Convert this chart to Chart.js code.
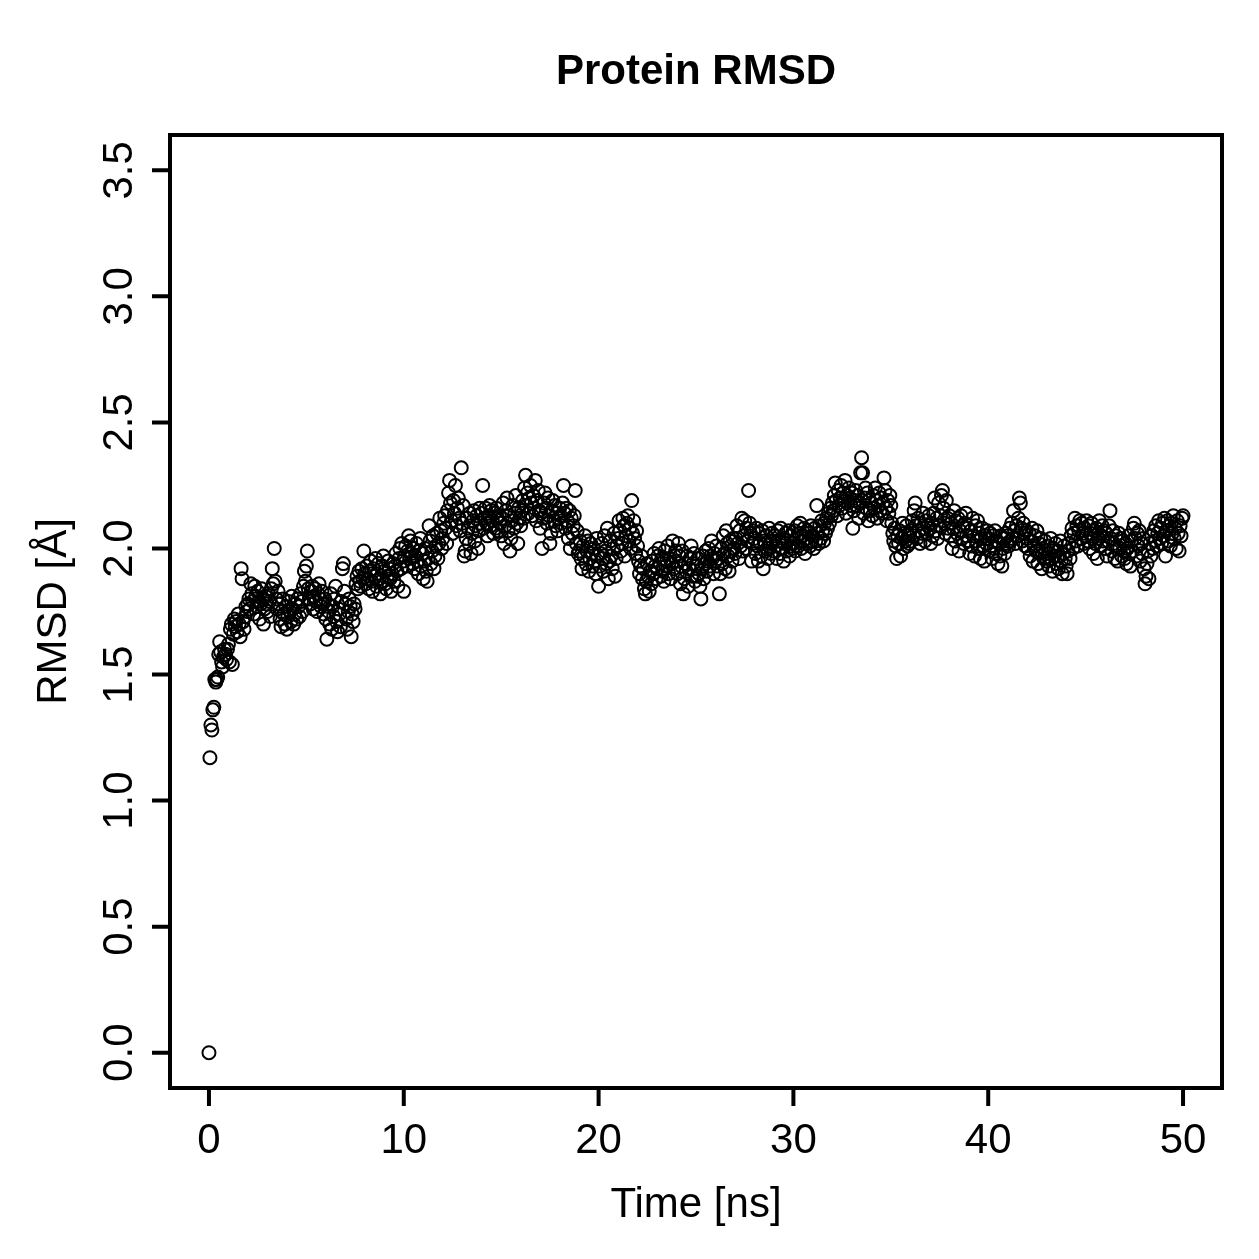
<!DOCTYPE html>
<html>
<head>
<meta charset="utf-8">
<title>Protein RMSD</title>
<script src="https://cdn.jsdelivr.net/npm/chart.js@4.4.1/dist/chart.umd.min.js"></script>
<style>
  html, body { margin: 0; padding: 0; background: #fff; }
  #wrap { width: 1259px; height: 1259px; }
</style>
</head>
<body>
<div id="wrap"><canvas id="rmsdChart" width="1259" height="1259"></canvas></div>
<script>
/* =========================================================
   DATA
========================================================= */

const chartTitle = "Protein RMSD";
const xTitle = "Time [ns]";
const yTitle = "RMSD [Å]";

// frames every 0.05 ns, 0 .. 50 ns
const timeStep = 0.05;

const rmsd = [
  // 0 ns
  0.00, 1.17, 1.30, 1.28, 1.36, 1.37, 1.48, 1.47, 1.48, 1.49, 1.58, 1.63, 1.59, 1.55, 1.53, 1.57, 1.60, 1.58, 1.56, 1.60,
  1.62, 1.55, 1.68, 1.70, 1.54, 1.66, 1.72, 1.69, 1.71, 1.67, 1.74, 1.70, 1.65, 1.92, 1.88, 1.71, 1.68, 1.73, 1.77, 1.75,
  1.78, 1.80, 1.76, 1.86, 1.82, 1.79, 1.74, 1.85, 1.81, 1.77, 1.83, 1.79, 1.72, 1.78, 1.84, 1.80, 1.70, 1.76, 1.81, 1.78,
  1.75, 1.82, 1.79, 1.73, 1.84, 1.92, 1.86, 2.00, 1.87, 1.80, 1.76, 1.83, 1.78, 1.72, 1.69, 1.75, 1.80, 1.74, 1.70, 1.77,
  1.68, 1.73, 1.79, 1.75, 1.71, 1.81, 1.76, 1.70, 1.74, 1.78, 1.72, 1.80, 1.77, 1.73, 1.82, 1.79, 1.75, 1.85, 1.91, 1.87,
  // 5 ns
  1.93, 1.99, 1.84, 1.80, 1.78, 1.83, 1.85, 1.76, 1.81, 1.84, 1.79, 1.75, 1.82, 1.86, 1.80, 1.77, 1.83, 1.78, 1.74, 1.80,
  1.72, 1.64, 1.78, 1.75, 1.70, 1.82, 1.68, 1.77, 1.73, 1.80, 1.85, 1.71, 1.67, 1.76, 1.74, 1.69, 1.79, 1.92, 1.94, 1.83,
  1.78, 1.72, 1.68, 1.75, 1.80, 1.77, 1.65, 1.74, 1.71, 1.78, 1.76, 1.86, 1.89, 1.84, 1.91, 1.87, 1.85, 1.92, 1.88, 1.99,
  1.90, 1.86, 1.93, 1.88, 1.84, 1.91, 1.95, 1.87, 1.83, 1.92, 1.89, 1.96, 1.85, 1.90, 1.94, 1.88, 1.82, 1.87, 1.93, 1.97,
  1.91, 1.86, 1.84, 1.89, 1.95, 1.92, 1.88, 1.83, 1.90, 1.94, 1.87, 1.93, 1.98, 1.91, 1.85, 1.96, 2.00, 1.92, 2.02, 1.95,
  // 10 ns
  1.83, 1.97, 2.01, 1.93, 1.99, 2.05, 1.96, 2.03, 1.98, 1.94, 2.00, 1.92, 1.97, 2.02, 1.95, 1.90, 1.99, 2.04, 1.93, 1.98,
  1.88, 1.95, 2.00, 1.91, 1.87, 1.96, 2.09, 2.03, 1.94, 1.99, 2.05, 1.92, 1.97, 2.01, 2.06, 1.96, 2.02, 2.12, 2.07, 2.00,
  2.04, 2.10, 2.13, 2.08, 2.02, 2.15, 2.22, 2.27, 2.18, 2.11, 2.06, 2.19, 2.14, 2.25, 2.09, 2.16, 2.20, 2.12, 2.07, 2.32,
  2.10, 2.17, 1.97, 1.99, 2.04, 2.12, 2.08, 2.02, 2.14, 1.98, 2.06, 2.11, 2.15, 2.03, 2.09, 2.13, 2.00, 2.07, 2.16, 2.10,
  2.14, 2.25, 2.08, 2.12, 2.16, 2.10, 2.05, 2.13, 2.17, 2.09, 2.15, 2.11, 2.06, 2.14, 2.08, 2.16, 2.12, 2.07, 2.13, 2.10,
  // 15 ns
  2.05, 2.12, 2.18, 2.02, 2.09, 2.15, 2.20, 2.07, 2.13, 1.99, 2.04, 2.11, 2.17, 2.08, 2.14, 2.21, 2.10, 2.02, 2.16, 2.12,
  2.09, 2.15, 2.19, 2.12, 2.24, 2.29, 2.17, 2.22, 2.14, 2.20, 2.25, 2.18, 2.13, 2.21, 2.16, 2.27, 2.11, 2.19, 2.23, 2.15,
  2.08, 2.14, 2.00, 2.12, 2.18, 2.22, 2.16, 2.10, 2.20, 2.13, 2.02, 2.06, 2.15, 2.19, 2.11, 2.17, 2.09, 2.14, 2.07, 2.12,
  2.16, 2.13, 2.10, 2.18, 2.25, 2.14, 2.08, 2.16, 2.11, 2.04, 2.15, 2.00, 2.12, 2.06, 2.09, 2.13, 2.23, 2.02, 2.07, 1.98,
  1.99, 2.03, 1.96, 1.92, 2.01, 1.97, 2.05, 1.94, 1.99, 2.03, 1.91, 1.96, 2.02, 1.98, 1.93, 2.00, 1.95, 1.90, 2.04, 1.97,
  // 20 ns
  1.85, 1.93, 1.98, 2.02, 1.96, 1.91, 2.05, 1.99, 1.94, 2.08, 1.88, 1.95, 2.03, 1.97, 1.92, 2.00, 2.06, 1.89, 1.96, 2.01,
  2.04, 2.11, 2.07, 1.99, 2.02, 2.12, 2.09, 1.97, 2.05, 2.10, 2.13, 2.03, 2.08, 2.00, 2.19, 2.06, 2.11, 2.04, 1.98, 2.07,
  2.01, 1.95, 1.90, 1.93, 1.97, 1.88, 1.92, 1.84, 1.82, 1.87, 1.94, 1.89, 1.83, 1.91, 1.86, 1.95, 1.90, 1.98, 1.93, 1.88,
  1.92, 1.97, 2.00, 1.94, 1.89, 1.96, 1.91, 1.87, 1.99, 1.93, 1.95, 2.01, 1.90, 1.96, 1.88, 1.94, 2.03, 1.92, 1.97, 1.99,
  1.95, 1.90, 2.02, 1.97, 1.86, 1.93, 1.99, 1.82, 1.88, 1.94, 1.91, 1.97, 1.85, 1.92, 1.96, 2.01, 1.89, 1.94, 1.98, 1.87,
  // 25 ns
  1.93, 1.89, 1.96, 1.90, 1.85, 1.80, 1.92, 1.97, 1.88, 1.94, 1.99, 1.91, 1.95, 2.00, 1.93, 1.97, 2.03, 1.96, 1.90, 1.98,
  1.95, 2.01, 1.93, 1.96, 1.82, 1.90, 2.00, 1.94, 2.05, 1.98, 1.92, 2.07, 2.02, 1.97, 1.91, 2.03, 1.99, 1.95, 2.04, 2.00,
  1.98, 2.04, 2.09, 2.02, 1.96, 2.07, 2.01, 2.12, 1.99, 2.05, 2.11, 2.00, 2.08, 2.03, 2.23, 2.10, 2.06, 1.95, 2.02, 2.07,
  2.04, 1.98, 2.08, 2.01, 1.95, 2.06, 2.02, 1.97, 2.07, 1.92, 2.03, 1.99, 2.05, 2.00, 1.96, 2.08, 2.02, 1.98, 2.06, 2.03,
  1.99, 2.05, 2.01, 1.96, 2.07, 2.03, 1.98, 2.08, 2.00, 2.04, 1.95, 2.02, 2.06, 1.99, 2.03, 2.07, 1.97, 2.01, 2.05, 2.00,
  // 30 ns
  2.02, 2.07, 1.99, 2.04, 2.09, 2.01, 2.06, 2.10, 2.00, 2.05, 2.03, 2.08, 1.98, 2.04, 2.07, 2.02, 2.06, 2.01, 2.09, 2.03,
  2.05, 2.00, 2.08, 2.03, 2.17, 2.06, 2.02, 2.09, 2.04, 2.11, 2.07, 2.03, 2.10, 2.06, 2.12, 2.08, 2.14, 2.10, 2.16, 2.13,
  2.18, 2.15, 2.21, 2.26, 2.19, 2.13, 2.23, 2.17, 2.20, 2.25, 2.16, 2.22, 2.19, 2.27, 2.14, 2.21, 2.18, 2.24, 2.20, 2.17,
  2.22, 2.08, 2.15, 2.19, 2.23, 2.17, 2.21, 2.12, 2.18, 2.30, 2.36, 2.30, 2.14, 2.20, 2.24, 2.16, 2.22, 2.11, 2.19, 2.15,
  2.18, 2.13, 2.21, 2.16, 2.24, 2.19, 2.12, 2.17, 2.22, 2.15, 2.20, 2.14, 2.18, 2.28, 2.23, 2.16, 2.11, 2.19, 2.14, 2.21,
  // 35 ns
  2.17, 2.10, 2.06, 2.03, 2.08, 2.01, 1.96, 2.05, 2.02, 2.07, 1.97, 2.04, 2.10, 2.00, 2.06, 2.03, 2.09, 2.01, 2.05, 2.02,
  2.07, 2.03, 2.11, 2.05, 2.15, 2.18, 2.09, 2.04, 2.12, 2.07, 2.02, 2.10, 2.06, 2.14, 2.08, 2.03, 2.11, 2.06, 2.09, 2.13,
  2.08, 2.02, 2.10, 2.05, 2.14, 2.20, 2.07, 2.12, 2.04, 2.18, 2.09, 2.13, 2.21, 2.23, 2.16, 2.10, 2.06, 2.19, 2.12, 2.08,
  2.13, 2.05, 2.10, 2.00, 2.08, 2.15, 2.03, 2.11, 2.06, 2.12, 1.99, 2.07, 2.13, 2.04, 2.09, 2.02, 2.10, 2.14, 2.05, 2.08,
  2.03, 1.98, 2.07, 2.01, 2.12, 2.05, 1.97, 2.09, 2.03, 2.11, 2.00, 2.06, 1.96, 2.04, 2.08, 2.01, 1.95, 2.05, 2.02, 2.07,
  // 40 ns
  2.04, 1.99, 2.06, 2.01, 1.96, 2.05, 2.00, 2.07, 1.98, 2.03, 1.94, 2.02, 1.97, 2.05, 1.93, 2.00, 2.04, 1.98, 2.06, 2.02,
  2.05, 2.01, 2.08, 2.03, 2.10, 2.04, 2.15, 2.07, 2.02, 2.09, 2.05, 2.12, 2.20, 2.18, 2.08, 2.03, 2.10, 2.06, 2.01, 2.07,
  2.04, 2.00, 2.06, 1.97, 2.03, 2.08, 1.95, 2.01, 2.05, 1.99, 2.07, 1.94, 2.02, 1.98, 2.04, 1.92, 2.00, 1.96, 2.03, 1.99,
  1.95, 2.01, 1.93, 1.98, 2.04, 1.96, 1.91, 2.00, 1.97, 2.02, 1.94, 1.99, 1.92, 1.97, 2.03, 1.95, 1.90, 1.98, 2.01, 1.96,
  1.93, 1.90, 1.99, 2.02, 1.96, 2.05, 2.08, 2.00, 2.06, 2.12, 2.03, 2.09, 2.01, 2.07, 2.11, 2.04, 2.10, 2.06, 2.02, 2.08,
  // 45 ns
  2.05, 2.11, 2.03, 2.09, 2.00, 2.06, 2.10, 2.04, 1.98, 2.07, 2.02, 2.08, 1.96, 2.04, 2.11, 2.05, 2.01, 2.09, 2.03, 2.07,
  2.00, 2.06, 1.97, 2.03, 2.09, 2.15, 2.04, 1.99, 2.07, 2.02, 1.96, 2.05, 2.01, 1.95, 2.06, 2.00, 2.04, 1.97, 2.03, 1.99,
  1.96, 2.02, 1.94, 2.00, 2.05, 1.98, 1.93, 2.03, 1.99, 2.08, 2.10, 2.04, 1.97, 2.06, 2.01, 2.07, 1.95, 2.02, 1.98, 2.04,
  1.92, 1.86, 1.89, 1.94, 1.99, 1.88, 2.02, 1.97, 2.05, 2.00, 2.07, 2.03, 2.09, 2.01, 2.06, 2.11, 2.04, 2.08, 2.02, 2.10,
  2.05, 2.12, 1.97, 2.07, 2.11, 2.03, 2.09, 2.01, 2.10, 2.06, 2.13, 2.04, 2.08, 2.00, 2.11, 2.06, 1.99, 2.09, 2.05, 2.12,
  // 50 ns
  2.13
];

const xTicks = [0, 10, 20, 30, 40, 50];
const xTickLabels = ["0", "10", "20", "30", "40", "50"];
const yTicks = [0, 0.5, 1, 1.5, 2, 2.5, 3, 3.5];
const yTickLabels = ["0.0", "0.5", "1.0", "1.5", "2.0", "2.5", "3.0", "3.5"];

/* =========================================================
   HELPERS
========================================================= */

const FONT = '"Liberation Sans", Arial, Helvetica, sans-serif';

const points = rmsd.map((v, i) => ({ x: +(i * timeStep).toFixed(2), y: v }));

// R style frame: box, outside ticks, rotated y labels
const rAxesPlugin = {
  id: "rAxes",
  afterDatasetsDraw(chart) {
    const ctx = chart.ctx;
    const area = chart.chartArea;
    const xs = chart.scales.x;
    const ys = chart.scales.y;
    const tickLen = 18;

    ctx.save();
    ctx.strokeStyle = "#000";
    ctx.fillStyle = "#000";
    ctx.lineWidth = 4;
    ctx.lineCap = "butt";

    ctx.strokeRect(area.left, area.top, area.right - area.left, area.bottom - area.top);

    // x axis
    ctx.beginPath();
    xTicks.forEach(t => {
      const px = xs.getPixelForValue(t);
      ctx.moveTo(px, area.bottom);
      ctx.lineTo(px, area.bottom + tickLen);
    });
    ctx.stroke();

    ctx.font = "42px " + FONT;
    ctx.textAlign = "center";
    ctx.textBaseline = "alphabetic";
    xTicks.forEach((t, i) => {
      ctx.fillText(xTickLabels[i], xs.getPixelForValue(t), area.bottom + 65);
    });

    // y axis
    ctx.beginPath();
    yTicks.forEach(t => {
      const py = ys.getPixelForValue(t);
      ctx.moveTo(area.left, py);
      ctx.lineTo(area.left - tickLen, py);
    });
    ctx.stroke();

    yTicks.forEach((t, i) => {
      ctx.save();
      ctx.translate(area.left - 38, ys.getPixelForValue(t));
      ctx.rotate(-Math.PI / 2);
      ctx.fillText(yTickLabels[i], 0, 0);
      ctx.restore();
    });

    // titles
    const midX = (area.left + area.right) / 2;
    const midY = (area.top + area.bottom) / 2;
    ctx.fillText(xTitle, midX, area.bottom + 129);

    ctx.save();
    ctx.translate(66, midY);
    ctx.rotate(-Math.PI / 2);
    ctx.fillText(yTitle, 0, 0);
    ctx.restore();

    ctx.font = "bold 42px " + FONT;
    ctx.fillText(chartTitle, midX, 84);

    ctx.restore();
  }
};

/* =========================================================
   CHART
========================================================= */

const rmsdChart = new Chart(
  document.getElementById("rmsdChart"),
  {
    type: "scatter",
    data: {
      datasets: [{
        label: "RMSD",
        data: points,
        pointStyle: "circle",
        pointRadius: 6.5,
        pointHoverRadius: 6.5,
        pointBorderWidth: 2,
        pointBorderColor: "#000",
        pointBackgroundColor: "rgba(0,0,0,0)",
        clip: false
      }]
    },
    options: {
      responsive: false,
      animation: false,
      devicePixelRatio: 1,
      layout: {
        padding: { left: 170, top: 135, right: 37, bottom: 171 }
      },
      plugins: {
        legend: { display: false },
        tooltip: { enabled: false }
      },
      scales: {
        x: { type: "linear", min: -2, max: 52, display: false },
        y: { type: "linear", min: -0.14, max: 3.64, display: false }
      }
    },
    plugins: [rAxesPlugin]
  }
);
</script>
</body>
</html>
